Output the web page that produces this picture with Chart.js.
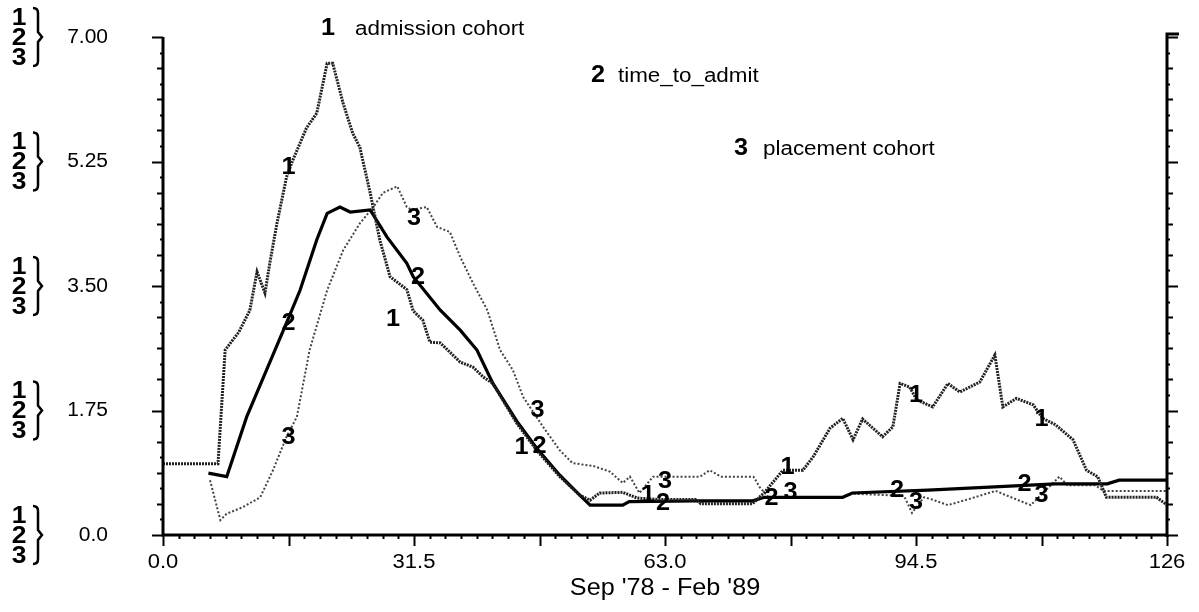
<!DOCTYPE html>
<html>
<head>
<meta charset="utf-8">
<script src="https://cdn.jsdelivr.net/npm/chart.js@4.4.1/dist/chart.umd.min.js"></script>
<style>
  body { margin: 0; background: #fff; }
  #wrap { width: 1199px; height: 612px; }
</style>
</head>
<body>
<div id="wrap"><canvas id="chart" width="1199" height="612"></canvas></div>
<script>
// months since Sep '78
const admissionMonths = [0, 6.9, 7.8, 9.5, 10.9, 11.8, 12.8, 13.4, 14.3, 15.5, 16.3, 18, 19.3, 20.6, 21.3, 22.6, 23.8, 24.7, 26, 27.2, 28.5, 30.6, 31.4, 32.6, 33.5, 34.8, 37.3, 38.9, 40.2, 41.4, 44.4, 46.9, 49.8, 52.3, 53.6, 54.8, 57.7, 59.5, 62, 66.8, 67.5, 74, 75.5, 77.8, 80.3, 81.6, 83.7, 85.3, 86.6, 87.8, 90.3, 91.6, 92.5, 93.7, 94.6, 96.6, 98.5, 100, 102.5, 104.4, 105.4, 107.1, 109.2, 110.4, 112, 114.2, 115.9, 117.3, 118.4, 124.7, 126];
const admissionValues = [1.0, 1.0, 2.6, 2.85, 3.16, 3.7, 3.4, 3.82, 4.38, 5.03, 5.27, 5.72, 5.93, 6.63, 6.63, 6.07, 5.65, 5.45, 4.81, 4.15, 3.63, 3.45, 3.15, 3.02, 2.71, 2.7, 2.43, 2.36, 2.22, 2.13, 1.57, 1.19, 0.82, 0.56, 0.49, 0.59, 0.6, 0.52, 0.5, 0.5, 0.44, 0.44, 0.6, 0.91, 0.91, 1.1, 1.5, 1.64, 1.34, 1.63, 1.38, 1.52, 2.13, 2.08, 1.9, 1.8, 2.13, 2.01, 2.15, 2.53, 1.8, 1.92, 1.83, 1.64, 1.55, 1.34, 0.91, 0.82, 0.53, 0.53, 0.42];

const timeToAdmitMonths = [5.7, 8, 10.5, 13, 15.5, 17.2, 19.3, 20.6, 22.2, 23.5, 26, 28.1, 30.6, 31.4, 34.8, 37.3, 39.4, 41.4, 44.4, 46.9, 49.8, 52.3, 53.6, 57.7, 58.5, 66.8, 74, 75.5, 85.3, 86.5, 96, 105, 112, 118.5, 120, 126];
const timeToAdmitValues = [0.87, 0.82, 1.66, 2.32, 2.98, 3.44, 4.15, 4.52, 4.61, 4.54, 4.57, 4.19, 3.82, 3.63, 3.16, 2.88, 2.6, 2.13, 1.6, 1.22, 0.84, 0.56, 0.42, 0.42, 0.47, 0.48, 0.48, 0.53, 0.53, 0.59, 0.63, 0.68, 0.72, 0.72, 0.77, 0.77];

const placementMonths = [5.9, 7.2, 8, 10, 12.2, 13.8, 15.5, 16.8, 18.4, 20.6, 22.6, 24.7, 26.4, 27.6, 29.4, 30.6, 31.2, 33.1, 34.4, 36, 37.3, 38.9, 40.7, 42.3, 43.9, 45.2, 47.7, 49.8, 51.4, 54, 56.1, 57.7, 58.6, 59.8, 61.5, 67.4, 68.6, 70, 74.1, 74.9, 76, 85.3, 86.5, 93, 94, 95.5, 96.5, 98.5, 101, 104.5, 106, 108.9, 112.5, 113.5, 117, 118, 126];
const placementValues = [0.77, 0.21, 0.3, 0.39, 0.53, 0.91, 1.38, 1.66, 2.6, 3.44, 4.0, 4.38, 4.61, 4.81, 4.9, 4.61, 4.57, 4.61, 4.33, 4.26, 3.91, 3.54, 3.16, 2.6, 2.32, 1.94, 1.52, 1.19, 1.01, 0.97, 0.89, 0.73, 0.82, 0.59, 0.82, 0.82, 0.91, 0.82, 0.82, 0.67, 0.53, 0.53, 0.58, 0.55, 0.31, 0.53, 0.5, 0.42, 0.5, 0.62, 0.55, 0.42, 0.82, 0.7, 0.7, 0.62, 0.62];

const seriesNames = ['admission cohort', 'time_to_admit', 'placement cohort'];
const xTickValues = [0, 31.5, 63, 94.5, 126];
const xTickLabels = ['0.0', '31.5', '63.0', '94.5', '126'];
const yTickValues = [0, 1.75, 3.5, 5.25, 7];
const yTickLabels = ['0.0', '1.75', '3.50', '5.25', '7.00'];
const labelMonths = [15.75, 31.5, 47.25, 63, 78.75, 94.5, 110.25];
const xTitle = "Sep '78 - Feb '89";

// pixel nudges so the curve numbers don't sit on top of each other
const labelShift = [
  [0, -21, -18, -17, -3, 0, 0],
  [0, 4, 0, -2, -19, -19, -17],
  [0, 0, -2, 0, 0, 0, 0]
];
const labelLift = [
  [-4, 8, -6, -4, -3, -3, 3],
  [5, 0, -5, 2, 1, 0, 0],
  [5, 9, -11, 5, -5, -5, 1]
];

const FONT = '"Liberation Sans", Arial, sans-serif';

function toPoints(months, values) {
  return months.map((m, i) => ({ x: m, y: values[i] }));
}

function valueAt(months, values, m) {
  for (let i = 0; i < months.length - 1; i++) {
    if (m >= months[i] && m <= months[i + 1]) {
      const t = (m - months[i]) / (months[i + 1] - months[i]);
      return values[i] + t * (values[i + 1] - values[i]);
    }
  }
  return values[values.length - 1];
}

function wideText(ctx, text, x, y, sx, align) {
  ctx.save();
  ctx.translate(x, y);
  ctx.scale(sx, 1);
  ctx.textAlign = align;
  ctx.fillText(text, 0, 0);
  ctx.restore();
}

const allSeries = [
  [admissionMonths, admissionValues],
  [timeToAdmitMonths, timeToAdmitValues],
  [placementMonths, placementValues]
];

const decorPlugin = {
  id: 'decor',
  afterDraw(chart) {
    const ctx = chart.ctx;
    const ca = chart.chartArea;
    const xs = chart.scales.x, ys = chart.scales.y;
    ctx.save();
    ctx.fillStyle = '#000';
    ctx.strokeStyle = '#000';

    // axis frame: left, bottom, right
    ctx.lineWidth = 3;
    ctx.beginPath();
    ctx.moveTo(ca.left, ca.top);
    ctx.lineTo(ca.left, ca.bottom);
    ctx.lineTo(ca.right, ca.bottom);
    ctx.moveTo(ca.right + 12, ca.top - 3);
    ctx.lineTo(ca.right, ca.top - 3);
    ctx.lineTo(ca.right, ca.bottom + 2);
    ctx.stroke();

    // y ticks on both sides
    ctx.lineWidth = 2;
    ctx.beginPath();
    const yStep = 0.21875;
    for (let k = 0; k <= 32; k++) {
      const py = Math.round(ys.getPixelForValue(k * yStep)) + 0.5;
      const len = k % 8 === 0 ? 11 : (k % 2 === 0 ? 6 : 3);
      ctx.moveTo(ca.left, py);
      ctx.lineTo(ca.left - len, py);
      ctx.moveTo(ca.right, py);
      ctx.lineTo(ca.right + len, py);
    }
    // x ticks along the bottom
    const xStep = 1.96875;
    for (let k = 0; k <= 64; k++) {
      const px = Math.round(xs.getPixelForValue(k * xStep)) + 0.5;
      const len = k % 8 === 0 ? 11 : 4;
      ctx.moveTo(px, ca.bottom);
      ctx.lineTo(px, ca.bottom + len);
    }
    ctx.stroke();

    // tick labels
    ctx.font = '20px ' + FONT;
    ctx.textBaseline = 'middle';
    xTickValues.forEach((v, i) => {
      wideText(ctx, xTickLabels[i], xs.getPixelForValue(v), ca.bottom + 27, 1.1, 'center');
    });
    yTickValues.forEach((v, i) => {
      const py = ys.getPixelForValue(v);
      ctx.font = '20px ' + FONT;
      wideText(ctx, yTickLabels[i], 108, py, 1.05, 'right');
      // series key ladder "1 2 3 }"
      ctx.font = 'bold 24px ' + FONT;
      ['1', '2', '3'].forEach((d, j) => {
        wideText(ctx, d, 19, py + 1 + (j - 1) * 20, 1.1, 'center');
      });
      ctx.lineWidth = 2.5;
      ctx.beginPath();
      ctx.moveTo(33, py - 29);
      ctx.quadraticCurveTo(38, py - 29, 38, py - 24);
      ctx.lineTo(38, py - 5);
      ctx.lineTo(42, py);
      ctx.lineTo(38, py + 5);
      ctx.lineTo(38, py + 24);
      ctx.quadraticCurveTo(38, py + 29, 33, py + 29);
      ctx.stroke();
    });

    // x axis title
    ctx.font = '24px ' + FONT;
    wideText(ctx, xTitle, (ca.left + ca.right) / 2, 588, 1.05, 'center');

    // legend entries
    const legendSpots = [[328, 355, 29], [598, 618, 76], [741, 763, 149]];
    seriesNames.forEach((name, i) => {
      const [nx, tx, ty] = legendSpots[i];
      ctx.font = 'bold 23px ' + FONT;
      wideText(ctx, String(i + 1), nx, ty, 1.1, 'center');
      ctx.font = '20px ' + FONT;
      wideText(ctx, name, tx, ty, 1.12, 'left');
    });

    // curve numbers along each line
    ctx.font = 'bold 23px ' + FONT;
    allSeries.forEach(([months, values], s) => {
      labelMonths.forEach((m, j) => {
        const px = xs.getPixelForValue(m) + labelShift[s][j];
        const py = ys.getPixelForValue(valueAt(months, values, m)) + labelLift[s][j];
        wideText(ctx, String(s + 1), px, py, 1.1, 'center');
      });
    });
    ctx.restore();
  }
};

new Chart(document.getElementById('chart').getContext('2d'), {
  type: 'line',
  data: {
    datasets: [
      {
        label: seriesNames[0],
        data: toPoints(admissionMonths, admissionValues),
        borderColor: '#222',
        borderWidth: 3,
        borderDash: [2, 1],
        pointRadius: 0,
        tension: 0
      },
      {
        label: seriesNames[1],
        data: toPoints(timeToAdmitMonths, timeToAdmitValues),
        borderColor: '#000',
        borderWidth: 3.2,
        pointRadius: 0,
        tension: 0
      },
      {
        label: seriesNames[2],
        data: toPoints(placementMonths, placementValues),
        borderColor: '#444',
        borderWidth: 2,
        borderDash: [2, 2],
        pointRadius: 0,
        tension: 0
      }
    ]
  },
  options: {
    responsive: false,
    animation: false,
    devicePixelRatio: 1,
    layout: { padding: { left: 163, right: 32, top: 37, bottom: 77 } },
    plugins: { legend: { display: false }, tooltip: { enabled: false } },
    scales: {
      x: { type: 'linear', min: 0, max: 126, display: false },
      y: { type: 'linear', min: 0, max: 7, display: false }
    }
  },
  plugins: [decorPlugin]
});
</script>
</body>
</html>
